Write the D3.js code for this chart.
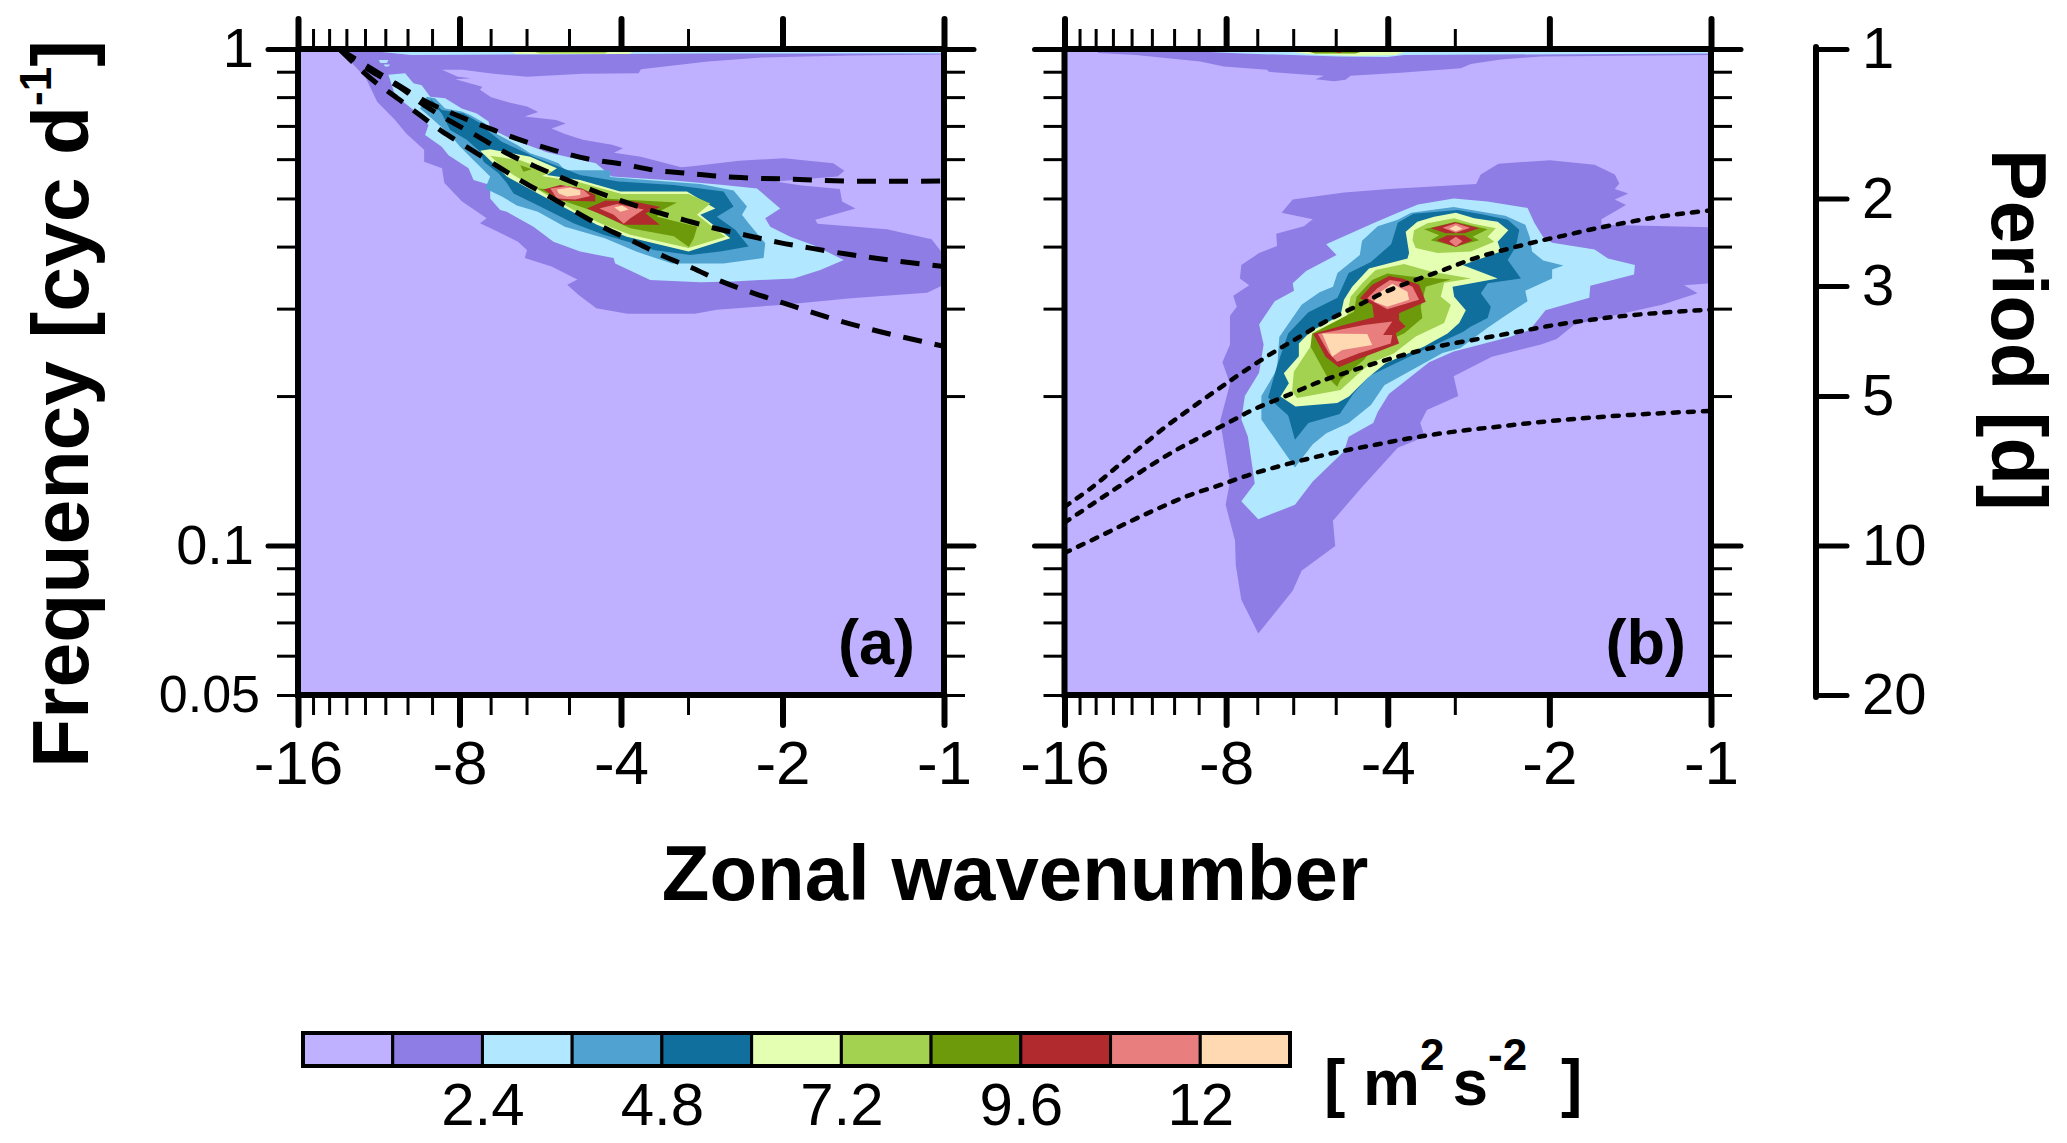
<!DOCTYPE html>
<html><head><meta charset="utf-8">
<script src="https://cdn.jsdelivr.net/npm/d3@7"></script>
<style>
html,body{margin:0;padding:0;background:#fff}
text{font-family:"Liberation Sans",Arial,sans-serif;fill:#000}
.axis path.domain{display:none}
.axis line{stroke:#000}
</style></head><body>
<svg id="chart" width="2067" height="1143"></svg>
<script>
// Contour vertices are [log2|zonal wavenumber|, log10 frequency].
const levelColors = ["#BFB1FF","#8F7DE6","#B2E8FF","#50A3D0","#116F9D","#E4FFB2","#A3D150","#6C9A0A","#B02A2E","#E87E7E","#FFD9B2"];
const legendLabels = [2.4,4.8,7.2,9.6,12];
const xMajor = [16,8,4,2,1];
const xMinor = [15,14,13,12,11,10,9,7,6,5,3];
const yMajor = [1,0.1];
const yMinor = [0.9,0.8,0.7,0.6,0.5,0.4,0.3,0.2,0.09,0.08,0.07,0.06,0.05];
const periodTicks = [1,2,3,5,10,20];

const a_L2 = [[3.745,0],[0,0],[0,-.011],[.576,-.013],[1.129,-.017],[1.461,-.025],[1.877,-.041],[1.89,-.049],[2.236,-.05],[2.582,-.056],[2.79,-.05],[2.984,-.042],[3.108,-.042],[3.011,-.056],[2.928,-.059],[3.025,-.061],[2.859,-.076],[2.873,-.082],[2.804,-.097],[2.679,-.109],[2.582,-.116],[2.513,-.127],[2.596,-.136],[2.402,-.143],[2.342,-.15],[2.43,-.16],[2.347,-.171],[2.236,-.183],[2.056,-.193],[1.987,-.2],[2.043,-.209],[1.877,-.217],[1.627,-.238],[1.558,-.236],[1.268,-.225],[.991,-.22],[.686,-.23],[.617,-.245],[.659,-.257],[1.046,-.267],[.88,-.275],[.645,-.282],[.631,-.307],[.548,-.321],[.797,-.344],[.783,-.352],[.354,-.363],[.077,-.383],[0,-.415],[0,-.475],[.105,-.491],[.576,-.502],[.991,-.515],[1.406,-.525],[1.544,-.533],[1.96,-.533],[2.153,-.522],[2.264,-.495],[2.333,-.475],[2.27,-.464],[2.43,-.438],[2.596,-.421],[2.582,-.405],[2.638,-.388],[2.762,-.368],[2.873,-.351],[2.832,-.341],[2.984,-.307],[3.094,-.27],[3.108,-.24],[3.219,-.227],[3.219,-.203],[3.33,-.17],[3.399,-.143],[3.51,-.106],[3.579,-.059]];
const a_L3 = [[3.44,-.052],[3.337,-.049],[3.285,-.069],[3.234,-.073],[3.182,-.096],[3.089,-.099],[2.986,-.12],[2.893,-.13],[2.82,-.146],[2.81,-.16],[2.686,-.18],[2.541,-.198],[2.459,-.208],[2.294,-.22],[2.156,-.23],[2.057,-.257],[1.674,-.265],[1.365,-.274],[1.158,-.281],[1.076,-.304],[1.014,-.321],[1.107,-.341],[1.076,-.358],[.952,-.378],[.807,-.395],[.621,-.425],[.766,-.445],[.931,-.462],[1.303,-.468],[1.509,-.47],[1.819,-.465],[2.036,-.432],[2.046,-.421],[2.253,-.408],[2.418,-.388],[2.542,-.358],[2.707,-.328],[2.748,-.324],[2.81,-.301],[2.81,-.274],[2.913,-.264],[2.944,-.24],[3.068,-.214],[3.11,-.197],[3.213,-.173],[3.192,-.153],[3.285,-.123],[3.399,-.093]];
const a_L3s1 = [[3.5,-.022],[3.44,-.022],[3.45,-.028],[3.49,-.028]];
const a_L3s2 = [[3.47,-.031],[3.43,-.031],[3.44,-.035],[3.46,-.035]];
const a_L3top = [[3.66,0],[0,0],[0,-.009],[1.5,-.009],[2.5,-.011],[3.3,-.012]];
const a_L6top = [[2.72,0],[1.9,0],[1.95,-.01],[2.65,-.01]];
const a_L7top = [[2.6,0],[2.05,0],[2.1,-.009],[2.5,-.009]];
const a_L4 = [[3.203,-.096],[3.151,-.099],[3.089,-.12],[2.986,-.126],[2.934,-.133],[2.841,-.15],[2.841,-.16],[2.758,-.173],[2.645,-.193],[2.562,-.21],[2.469,-.22],[2.387,-.23],[2.346,-.244],[2.067,-.244],[2.067,-.258],[1.798,-.265],[1.509,-.272],[1.303,-.285],[1.22,-.317],[1.251,-.334],[1.21,-.351],[1.107,-.391],[1.117,-.421],[1.365,-.432],[1.685,-.432],[1.906,-.408],[2.1,-.381],[2.348,-.358],[2.515,-.328],[2.645,-.315],[2.738,-.297],[2.841,-.281],[2.81,-.257],[2.913,-.224],[2.996,-.197],[3.058,-.173],[3.161,-.143],[3.244,-.12]];
const a_L5 = [[3.182,-.099],[3.11,-.123],[2.975,-.13],[2.851,-.153],[2.82,-.166],[2.738,-.187],[2.583,-.21],[2.541,-.217],[2.438,-.23],[2.253,-.254],[2.015,-.267],[1.674,-.274],[1.365,-.287],[1.303,-.317],[1.406,-.338],[1.292,-.364],[1.21,-.398],[1.385,-.408],[1.571,-.415],[1.798,-.405],[1.881,-.395],[2.108,-.374],[2.294,-.351],[2.5,-.317],[2.665,-.291],[2.707,-.27],[2.758,-.25],[2.851,-.227],[2.872,-.207],[2.955,-.183],[3.058,-.163],[3.11,-.13],[3.172,-.106]];
const a_L6 = [[2.872,-.205],[2.81,-.202],[2.562,-.217],[2.397,-.24],[2.459,-.254],[2.253,-.264],[2.005,-.287],[1.592,-.287],[1.416,-.321],[1.509,-.334],[1.323,-.381],[1.582,-.408],[1.964,-.378],[2.149,-.354],[2.48,-.297],[2.707,-.257]];
const a_L7 = [[2.81,-.215],[2.624,-.224],[2.428,-.247],[2.49,-.256],[2.253,-.269],[1.995,-.292],[1.582,-.292],[1.447,-.311],[1.53,-.334],[1.354,-.378],[1.582,-.401],[1.943,-.374],[2.129,-.351],[2.294,-.324],[2.459,-.294],[2.666,-.254],[2.728,-.24]];
const a_L8 = [[2.521,-.281],[2.18,-.287],[2.107,-.301],[1.653,-.309],[1.746,-.324],[1.777,-.338],[1.528,-.358],[1.549,-.381],[1.58,-.399],[1.673,-.377],[1.942,-.361],[2.159,-.328],[2.345,-.307]];
const a_L8s = [[2.624,-.234],[2.552,-.242],[2.604,-.247]];
const a_L9a = [[2.479,-.283],[2.376,-.274],[2.242,-.281],[2.159,-.294],[2.159,-.307],[2.376,-.305]];
const a_L9b = [[2.211,-.321],[2.097,-.305],[1.921,-.307],[1.756,-.318],[1.849,-.331],[1.76,-.354],[1.983,-.354],[2.118,-.334]];
const a_L10a = [[2.438,-.281],[2.335,-.276],[2.231,-.284],[2.19,-.296],[2.283,-.303],[2.397,-.301]];
const a_L10b = [[2.134,-.321],[2.025,-.312],[1.859,-.323],[1.942,-.341],[1.983,-.352],[2.045,-.334]];
const a_L11a = [[2.397,-.283],[2.314,-.279],[2.252,-.285],[2.252,-.294],[2.335,-.297],[2.386,-.291]];
const a_L11b = [[2.041,-.319],[1.994,-.315],[1.952,-.323],[2.004,-.328]];
const a_curve1 = [[3.745,0],[3.482,-.052],[3.205,-.106],[2.984,-.138],[2.79,-.163],[2.596,-.186],[2.402,-.205],[2.209,-.221],[1.987,-.232],[1.794,-.244],[1.6,-.25],[1.406,-.256],[1.185,-.26],[.963,-.262],[.576,-.266],[0,-.266]];
const a_curve2 = [[3.745,0],[3.551,-.044],[3.371,-.077],[3.219,-.113],[3.053,-.146],[2.887,-.176],[2.707,-.21],[2.541,-.235],[2.361,-.26],[2.181,-.284],[1.987,-.307],[1.794,-.327],[1.6,-.345],[1.406,-.362],[1.212,-.376],[1.018,-.39],[.825,-.401],[.603,-.413],[.41,-.422],[.216,-.43],[0,-.438]];
const a_curve3 = [[3.745,0],[3.551,-.059],[3.385,-.099],[3.233,-.136],[3.108,-.166],[2.956,-.197],[2.79,-.231],[2.61,-.267],[2.444,-.297],[2.264,-.331],[2.098,-.361],[1.918,-.388],[1.738,-.417],[1.558,-.441],[1.378,-.468],[1.185,-.491],[.991,-.512],[.811,-.531],[.631,-.549],[.437,-.566],[.243,-.581],[0,-.599]];

const b_L2top = [[3.8,0],[0,0],[0,-.012],[1.053,-.015],[1.3,-.021],[1.486,-.03],[1.548,-.039],[1.92,-.048],[2.23,-.054],[2.261,-.062],[2.333,-.065],[2.447,-.061],[2.395,-.054],[2.54,-.051],[2.736,-.046],[2.747,-.042],[3.015,-.035],[3.16,-.025],[3.558,-.012],[3.793,-.008]];
const b_L3top = [[3.5,0],[0,0],[0,-.009],[1.9,-.012],[2,-.016],[2.3,-.015],[2.9,-.009]];
const b_L6top = [[2.72,0],[1.85,0],[1.95,-.012],[2.2,-.014],[2.5,-.01]];
const b_L8top = [[2.55,0],[2.1,0],[2.2,-.009],[2.45,-.009]];
const b_L9top = [[2.42,0],[2.23,0],[2.3,-.008]];
const b_L2 = [[2.657,-.33],[2.588,-.303],[2.27,-.289],[1.993,-.282],[1.453,-.272],[1.425,-.253],[1.315,-.231],[.996,-.224],[.72,-.233],[.595,-.253],[.567,-.271],[.595,-.282],[.512,-.291],[.595,-.303],[.526,-.314],[.678,-.343],[.678,-.354],[0,-.359],[0,-.472],[.166,-.476],[.083,-.492],[.304,-.515],[.609,-.537],[.844,-.555],[.955,-.584],[1.052,-.595],[1.356,-.62],[1.592,-.659],[1.564,-.699],[1.758,-.727],[1.799,-.753],[1.772,-.781],[1.938,-.803],[2.159,-.882],[2.339,-.95],[2.325,-1.001],[2.533,-1.051],[2.588,-1.091],[2.801,-1.177],[2.906,-1.109],[2.94,-1.04],[2.945,-.99],[3.003,-.918],[2.976,-.871],[3.037,-.749],[2.976,-.674],[3.023,-.631],[2.976,-.595],[2.976,-.537],[2.934,-.519],[2.956,-.497],[2.857,-.476],[2.915,-.462],[2.906,-.435],[2.796,-.411],[2.685,-.397],[2.69,-.372],[2.519,-.357],[2.464,-.343]];
const b_L3 = [[2.381,-.393],[2.09,-.351],[1.938,-.33],[1.813,-.313],[1.592,-.301],[1.384,-.307],[1.135,-.32],[1.093,-.35],[1.038,-.379],[.982,-.39],[.72,-.404],[.637,-.422],[.471,-.435],[.476,-.454],[.747,-.477],[.753,-.501],[1.024,-.526],[1.121,-.566],[1.246,-.58],[1.592,-.609],[1.744,-.631],[1.993,-.695],[2.062,-.731],[2.09,-.753],[2.242,-.781],[2.27,-.81],[2.464,-.871],[2.574,-.918],[2.801,-.947],[2.906,-.911],[2.823,-.875],[2.865,-.781],[2.906,-.746],[2.884,-.699],[2.796,-.652],[2.768,-.595],[2.796,-.555],[2.699,-.508],[2.58,-.487],[2.588,-.472],[2.505,-.447],[2.317,-.415]];
const b_L4 = [[2.159,-.386],[2.062,-.357],[1.938,-.344],[1.855,-.33],[1.592,-.318],[1.273,-.336],[1.149,-.354],[1.121,-.379],[1.107,-.408],[1.038,-.426],[.913,-.436],[.983,-.444],[.983,-.462],[1.149,-.487],[1.135,-.508],[1.273,-.537],[1.384,-.562],[1.55,-.602],[1.661,-.612],[2.021,-.677],[2.104,-.717],[2.242,-.753],[2.38,-.774],[2.464,-.796],[2.574,-.843],[2.782,-.746],[2.782,-.699],[2.685,-.645],[2.671,-.58],[2.533,-.515],[2.422,-.49],[2.339,-.479],[2.311,-.451],[2.173,-.415]];
const b_L5 = [[1.568,-.324],[1.403,-.334],[1.258,-.344],[1.186,-.364],[1.207,-.398],[1.258,-.425],[1.176,-.462],[1.382,-.472],[1.424,-.492],[1.362,-.519],[1.382,-.542],[1.486,-.559],[1.535,-.57],[1.799,-.609],[2.118,-.659],[2.214,-.695],[2.297,-.735],[2.491,-.753],[2.574,-.787],[2.616,-.738],[2.74,-.702],[2.685,-.638],[2.616,-.573],[2.491,-.53],[2.311,-.501],[2.242,-.451],[2.104,-.429],[1.979,-.393],[1.938,-.35],[1.841,-.332]];
const b_L6 = [[1.889,-.368],[1.817,-.348],[1.713,-.338],[1.579,-.33],[1.465,-.341],[1.32,-.348],[1.254,-.365],[1.32,-.388],[1.3,-.408],[1.537,-.435],[1.32,-.462],[1.599,-.479],[1.589,-.499],[1.517,-.526],[1.558,-.552],[1.63,-.573],[1.775,-.599],[2.013,-.633],[2.127,-.663],[2.24,-.7],[2.313,-.713],[2.571,-.72],[2.664,-.7],[2.612,-.673],[2.643,-.653],[2.55,-.619],[2.55,-.593],[2.478,-.569],[2.292,-.536],[2.271,-.505],[2.22,-.479],[2.116,-.442],[1.878,-.422],[1.868,-.411]];
const b_L7a = [[1.837,-.365],[1.755,-.351],[1.589,-.341],[1.486,-.351],[1.331,-.361],[1.382,-.378],[1.341,-.388],[1.486,-.408],[1.692,-.411],[1.827,-.401],[1.847,-.385]];
const b_L7b = [[2.075,-.445],[1.899,-.433],[1.734,-.448],[1.486,-.462],[1.651,-.471],[1.672,-.499],[1.61,-.515],[1.651,-.552],[1.827,-.579],[1.961,-.613],[2.106,-.633],[2.189,-.656],[2.292,-.687],[2.561,-.703],[2.592,-.69],[2.581,-.65],[2.478,-.599],[2.437,-.573],[2.251,-.536],[2.23,-.499],[2.158,-.472]];
const b_L8a = [[1.775,-.363],[1.579,-.348],[1.382,-.363],[1.475,-.378],[1.434,-.385],[1.579,-.398],[1.734,-.385],[1.682,-.375]];
const b_L8b = [[2.096,-.465],[2.003,-.452],[1.858,-.458],[1.61,-.464],[1.765,-.479],[1.796,-.519],[1.786,-.542],[1.899,-.573],[2.085,-.599],[2.147,-.626],[2.292,-.666],[2.313,-.68],[2.375,-.66],[2.478,-.599],[2.468,-.573],[2.209,-.529],[2.193,-.499]];
const b_L9a = [[1.734,-.361],[1.585,-.349],[1.434,-.361],[1.527,-.371],[1.641,-.371]];
const b_L9b = [[1.697,-.385],[1.63,-.375],[1.527,-.375],[1.475,-.385],[1.579,-.399]];
const b_L9c = [[2.172,-.502],[2.096,-.475],[1.992,-.457],[1.91,-.462],[1.806,-.475],[1.765,-.509],[1.93,-.532],[1.93,-.546],[1.889,-.559],[1.951,-.573],[1.93,-.593],[2.168,-.623],[2.302,-.641],[2.385,-.62],[2.461,-.574],[2.271,-.556],[2.085,-.54],[2.096,-.515]];
const b_L10a = [[1.661,-.36],[1.579,-.351],[1.49,-.36],[1.579,-.37]];
const b_L10b = [[1.62,-.387],[1.579,-.378],[1.537,-.387],[1.579,-.398]];
const b_L10c = [[2.127,-.502],[2.064,-.482],[1.986,-.465],[1.92,-.469],[1.847,-.479],[1.806,-.505],[2.003,-.524]];
const b_L10d = [[2.432,-.574],[2.147,-.556],[1.972,-.549],[2.029,-.576],[1.972,-.576],[1.982,-.593],[2.178,-.613],[2.313,-.63],[2.364,-.613]];
const b_L11a = [[1.62,-.362],[1.579,-.355],[1.537,-.362],[1.579,-.367]];
const b_L11b = [[2.085,-.509],[2.044,-.489],[1.972,-.473],[1.878,-.489],[1.868,-.505],[2.003,-.519]];
const b_L11c = [[2.406,-.573],[2.127,-.574],[2.096,-.596],[2.282,-.606],[2.344,-.62]];
const b_curve1 = [[4,-.922],[3.834,-.884],[3.681,-.843],[3.515,-.798],[3.363,-.758],[3.211,-.722],[3.045,-.684],[2.893,-.65],[2.713,-.612],[2.547,-.58],[2.38,-.548],[2.187,-.517],[2.021,-.49],[1.827,-.465],[1.647,-.444],[1.467,-.422],[1.273,-.404],[1.079,-.388],[.886,-.374],[.692,-.36],[.498,-.348],[.304,-.337],[0,-.325]];
const b_curve2 = [[4,-.954],[3.834,-.918],[3.668,-.882],[3.502,-.846],[3.322,-.81],[3.155,-.781],[2.989,-.753],[2.823,-.725],[2.602,-.695],[2.436,-.672],[2.242,-.65],[2.048,-.63],[1.855,-.612],[1.661,-.597],[1.44,-.584],[1.218,-.571],[1.024,-.559],[.803,-.548],[.581,-.539],[.304,-.531],[0,-.525]];
const b_curve3 = [[4,-1.015],[3.792,-.983],[3.598,-.952],[3.418,-.925],[3.239,-.9],[3.045,-.879],[2.851,-.857],[2.657,-.839],[2.464,-.823],[2.27,-.809],[2.076,-.797],[1.882,-.785],[1.688,-.775],[1.495,-.767],[1.301,-.76],[1.107,-.753],[.913,-.747],[.72,-.742],[.498,-.737],[.277,-.733],[0,-.729]];

const panelAShapes = [[1,a_L2],[2,a_L3],[2,a_L3s1],[2,a_L3s2],[2,a_L3top],[5,a_L6top],[6,a_L7top],[3,a_L4],[4,a_L5],[5,a_L6],[6,a_L7],[7,a_L8],[7,a_L8s],[8,a_L9a],[8,a_L9b],[9,a_L10a],[9,a_L10b],[10,a_L11a],[10,a_L11b]];
const panelBShapes = [[1,b_L2top],[2,b_L3top],[5,b_L6top],[7,b_L8top],[8,b_L9top],[1,b_L2],[2,b_L3],[3,b_L4],[4,b_L5],[5,b_L6],[6,b_L7a],[6,b_L7b],[7,b_L8a],[7,b_L8b],[8,b_L9a],[8,b_L9b],[8,b_L9c],[9,b_L10a],[9,b_L10b],[9,b_L10c],[9,b_L10d],[10,b_L11a],[10,b_L11b],[10,b_L11c]];

const svg = d3.select("#chart");
const yRange = [695,49];

function drawPanel(id, x0, x1, shapes, curves, curveStyle, tag, tagX, withLabels){
  const x = d3.scaleLog().domain([16,1]).range([x0,x1]);
  const y = d3.scaleLog().domain([0.05,1]).range(yRange);
  const g = svg.append("g");
  const clipId = "clip"+id;
  g.append("clipPath").attr("id",clipId).append("rect")
    .attr("x",x0).attr("y",yRange[1]).attr("width",x1-x0).attr("height",yRange[0]-yRange[1]);
  const plot = g.append("g").attr("clip-path",`url(#${clipId})`);
  plot.append("rect").attr("x",x0).attr("y",yRange[1]).attr("width",x1-x0).attr("height",yRange[0]-yRange[1]).attr("fill",levelColors[0]);
  const line = d3.line().x(d=>x(Math.pow(2,d[0]))).y(d=>y(Math.pow(10,d[1])));
  const curveLine = d3.line().x(d=>x(Math.pow(2,d[0]))).y(d=>y(Math.pow(10,d[1]))).curve(d3.curveCatmullRom);
  plot.selectAll("path.lev").data(shapes).join("path").attr("class","lev")
    .attr("d",d=>line(d[1])+"Z").attr("fill",d=>levelColors[d[0]]);
  plot.selectAll("path.cur").data(curves).join("path").attr("class","cur")
    .attr("d",d=>curveLine(d)).attr("fill","none").attr("stroke","#000")
    .attr("stroke-width",curveStyle.w).attr("stroke-dasharray",curveStyle.dash).attr("stroke-linecap",curveStyle.cap);

  const axes = g.append("g");
  function put(ax, tx, ty, w, cap, fs){
    const s = axes.append("g").attr("class","axis").attr("transform",`translate(${tx},${ty})`).call(ax);
    s.selectAll("line").attr("stroke-width",w).attr("stroke-linecap",cap);
    s.selectAll("text").attr("font-size",fs).attr("font-family",'"Liberation Sans"').attr("fill","#000");
    return s;
  }
  const none = ()=>"";
  const T = yRange[1], B = yRange[0];
  put(d3.axisTop(x).tickValues(xMinor).tickSize(20).tickFormat(none),0,T,3,"butt",0);
  put(d3.axisBottom(x).tickValues(xMinor).tickSize(20).tickFormat(none),0,B,3,"butt",0);
  put(d3.axisTop(x).tickValues(xMajor).tickSize(30).tickFormat(none),0,T,6,"round",0);
  put(d3.axisBottom(x).tickValues(xMajor).tickSize(30).tickPadding(15).tickFormat(d=>"-"+d),0,B,6,"round",62);
  const minorFmt = d=> (withLabels && d===0.05) ? "0.05" : "";
  put(d3.axisLeft(y).tickValues(yMinor).tickSize(21).tickPadding(17).tickFormat(minorFmt),x0,0,3,"butt",52);
  put(d3.axisRight(y).tickValues(yMinor).tickSize(21).tickFormat(none),x1,0,3,"butt",0);
  const majorFmt = d=> withLabels ? String(d) : "";
  put(d3.axisLeft(y).tickValues(yMajor).tickSize(30).tickPadding(14).tickFormat(majorFmt),x0,0,5,"round",56);
  put(d3.axisRight(y).tickValues(yMajor).tickSize(30).tickFormat(none),x1,0,5,"round",0);

  const frame = [[x0,T],[x1,T],[x1,B],[x0,B],[x0,T]];
  g.append("path").attr("d",d3.line()(frame)).attr("fill","none").attr("stroke","#000").attr("stroke-width",6);
  g.append("text").attr("x",tagX).attr("y",664).attr("text-anchor","end")
    .attr("font-size",63).attr("font-weight","bold").text(tag);
}

drawPanel("a",298,944,panelAShapes,[a_curve1,a_curve2,a_curve3],{w:5,dash:"19 13",cap:"butt"},"(a)",915,true);
drawPanel("b",1064.5,1711,panelBShapes,[b_curve1,b_curve2,b_curve3],{w:4.5,dash:"6 9",cap:"round"},"(b)",1686,false);

// period axis
const yP = d3.scaleLog().domain([1,20]).range([49,695]);
const pAx = svg.append("g").attr("class","axis").attr("transform","translate(1816,0)")
  .call(d3.axisRight(yP).tickValues(periodTicks).tickSize(31).tickPadding(15).tickFormat(d=>String(d)));
pAx.selectAll("line").attr("stroke-width",5).attr("stroke-linecap","round");
pAx.selectAll("text").attr("font-size",58).attr("font-family",'"Liberation Sans"').attr("fill","#000");
svg.append("line").attr("x1",1816).attr("x2",1816).attr("y1",yP(1)-2).attr("y2",yP(20)+2)
  .attr("stroke","#000").attr("stroke-width",6).attr("stroke-linecap","round");

// titles
svg.append("text").attr("x",1015).attr("y",900).attr("text-anchor","middle")
  .attr("font-size",78).attr("font-weight","bold").text("Zonal wavenumber");
const fq = svg.append("text").attr("transform","translate(88,768) rotate(-90)")
  .attr("font-size",80.5).attr("font-weight","bold");
fq.append("tspan").text("Frequency [cyc d");
fq.append("tspan").attr("font-size",44).attr("dy",-37).text("-1");
fq.append("tspan").attr("dy",37).text("]");
svg.append("text").attr("transform","translate(1992,149) rotate(90)")
  .attr("font-size",77.5).attr("font-weight","bold").text("Period [d]");

// colour bar
const barTop = 1033, barBot = 1066;
const xL = d3.scaleLinear().domain([0,13.2]).range([303,1290]);
svg.append("g").selectAll("rect").data(levelColors).join("rect")
  .attr("x",(d,i)=>xL(i*1.2)).attr("y",barTop).attr("width",xL(1.2)-xL(0)).attr("height",barBot-barTop)
  .attr("fill",d=>d).attr("stroke","#000").attr("stroke-width",3);
svg.append("rect").attr("x",xL(0)).attr("y",barTop).attr("width",xL(13.2)-xL(0)).attr("height",barBot-barTop)
  .attr("fill","none").attr("stroke","#000").attr("stroke-width",4);
const lAx = svg.append("g").attr("class","axis").attr("transform",`translate(0,${barBot})`)
  .call(d3.axisBottom(xL).tickValues(legendLabels).tickSize(0).tickPadding(16).tickFormat(d=>String(d)));
lAx.selectAll("text").attr("font-size",60).attr("font-family",'"Liberation Sans"').attr("fill","#000");
const unit = svg.append("text").attr("x",1324).attr("y",1105).attr("font-size",64).attr("font-weight","bold");
unit.append("tspan").text("[ m");
unit.append("tspan").attr("font-size",44).attr("dy",-35).text("2");
unit.append("tspan").attr("dy",35).attr("dx",8).text("s");
unit.append("tspan").attr("font-size",44).attr("dy",-35).text("-2");
unit.append("tspan").attr("dy",35).attr("dx",16).text(" ]");
</script>
</body></html>
